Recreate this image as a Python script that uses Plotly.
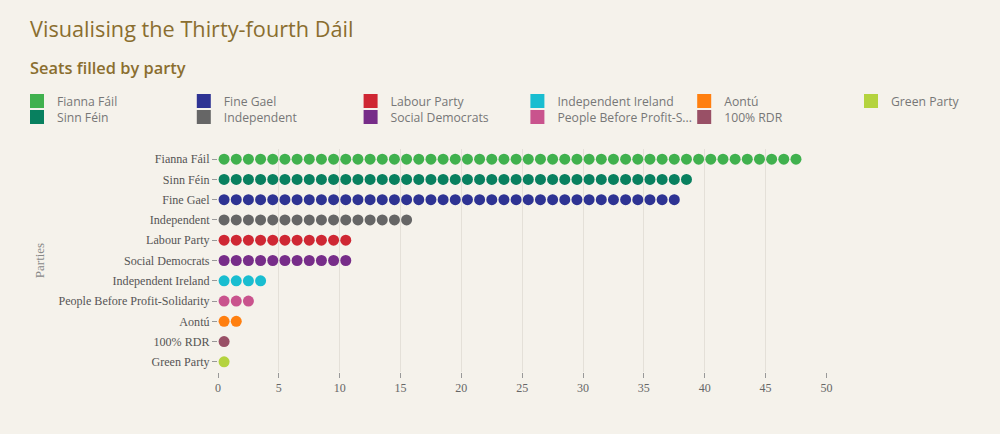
import plotly.graph_objects as go

parties = ["Fianna Fáil", "Sinn Féin", "Fine Gael", "Independent", "Labour Party",
           "Social Democrats", "Independent Ireland", "People Before Profit-Solidarity",
           "Aontú", "100% RDR", "Green Party"]
seats = [48, 39, 38, 16, 11, 11, 4, 3, 2, 1, 1]
colors = ["#40B14E", "#08805F", "#2E3393", "#666666", "#CF2733",
          "#772D89", "#19BDD0", "#C9538D", "#FF7F0F", "#995066", "#B4D33E"]
legend_names = ["Fianna Fáil", "Sinn Féin", "Fine Gael", "Independent", "Labour Party",
                "Social Democrats", "Independent Ireland", "People Before Profit-S...",
                "Aontú", "100% RDR", "Green Party"]
# legend rows as laid out in the reference (split in halves of 3 columns)
legend_row1a = ["Fianna Fáil", "Fine Gael", "Labour Party"]
legend_row1b = ["Independent Ireland", "Aontú", "Green Party"]
legend_row2a = ["Sinn Féin", "Independent", "Social Democrats"]
legend_row2b = ["People Before Profit-Solidarity", "100% RDR"]
x_ticks = [0, 5, 10, 15, 20, 25, 30, 35, 40, 45, 50]

BG = "#F5F2EB"
TITLE_C = "#8A6E2F"
W, H = 1000, 434
ML, MR, MT, MB = 218, 173, 149, 62
COL = 166.8

fig = go.Figure()
for p, n, c in zip(parties, seats, colors):
    fig.add_trace(go.Scatter(
        x=[i + 0.5 for i in range(n)], y=[p] * n, mode="markers",
        marker=dict(color=c, size=11, line=dict(width=0)),
        showlegend=False, name=p, hovertemplate=p + "<extra></extra>"))

legend_groups = [("legend", legend_row1a, 17, 101), ("legend2", legend_row1b, 17 + 3 * COL, 101),
                 ("legend3", legend_row2a, 17, 117), ("legend4", legend_row2b, 17 + 3 * COL, 117)]
for lg, row, _, _ in legend_groups:
    for rank, p in enumerate(row):
        idx = parties.index(p)
        fig.add_trace(go.Scatter(
            x=[None], y=[None], mode="markers", name=legend_names[idx],
            marker=dict(color=colors[idx], size=14, symbol="square", line=dict(width=0)),
            legendrank=rank + 1, showlegend=True, legend=lg, hoverinfo="skip"))

leg_common = dict(orientation="h", xref="container", yref="container",
                  xanchor="left", yanchor="middle",
                  entrywidth=COL - 45, entrywidthmode="pixels",
                  font=dict(family="Open Sans, sans-serif", size=12.2, color="#777777"),
                  itemsizing="trace", bgcolor="rgba(0,0,0,0)")

legend_layouts = {lg: dict(**leg_common, x=px / W, y=1 - py / H)
                  for lg, _, px, py in legend_groups}

fig.update_layout(
    width=W, height=H,
    paper_bgcolor=BG, plot_bgcolor=BG,
    margin=dict(l=ML, r=MR, t=MT, b=MB, autoexpand=False),
    showlegend=True,
    **legend_layouts,
    xaxis=dict(range=[0, 50.05], tickvals=x_ticks, showgrid=True, gridcolor="#E4E0D8",
               gridwidth=1, zeroline=False, showline=False, ticks="outside", ticklen=5,
               tickcolor="#999999",
               tickfont=dict(family="Liberation Serif, serif", size=12, color="#666666"),
               fixedrange=True),
    yaxis=dict(type="category", categoryorder="array", categoryarray=parties[::-1],
               tickmode="array", tickvals=parties,
               range=[-0.5, len(parties) - 0.5], showgrid=False, zeroline=False,
               showline=False, ticks="outside", ticklen=5, tickcolor="#999999",
               tickfont=dict(family="Liberation Serif, serif", size=12.1, color="#555555"),
               title=dict(text="Parties", standoff=10,
                          font=dict(family="Liberation Serif, serif", size=13, color="#888888")),
               fixedrange=True),
)

pw = W - ML - MR
ph = H - MT - MB
def to_paper(px, py):
    return ((px - ML) / pw, (H - MB - py) / ph)
tx, ty = to_paper(28, 28)
sx, sy = to_paper(28, 67)
fig.add_annotation(text="Visualising the Thirty-fourth Dáil", xref="paper", yref="paper",
                   x=tx, y=ty, showarrow=False, xanchor="left", yanchor="middle",
                   font=dict(family="Open Sans, sans-serif", size=21.7, color=TITLE_C, weight=500))
fig.add_annotation(text="Seats filled by party", xref="paper", yref="paper",
                   x=sx, y=sy, showarrow=False, xanchor="left", yanchor="middle",
                   font=dict(family="Open Sans, sans-serif", size=16.4, color=TITLE_C, weight=600))

fig.write_html("out.html", config={"displayModeBar": False},
               post_script="document.body.style.margin='0';")
